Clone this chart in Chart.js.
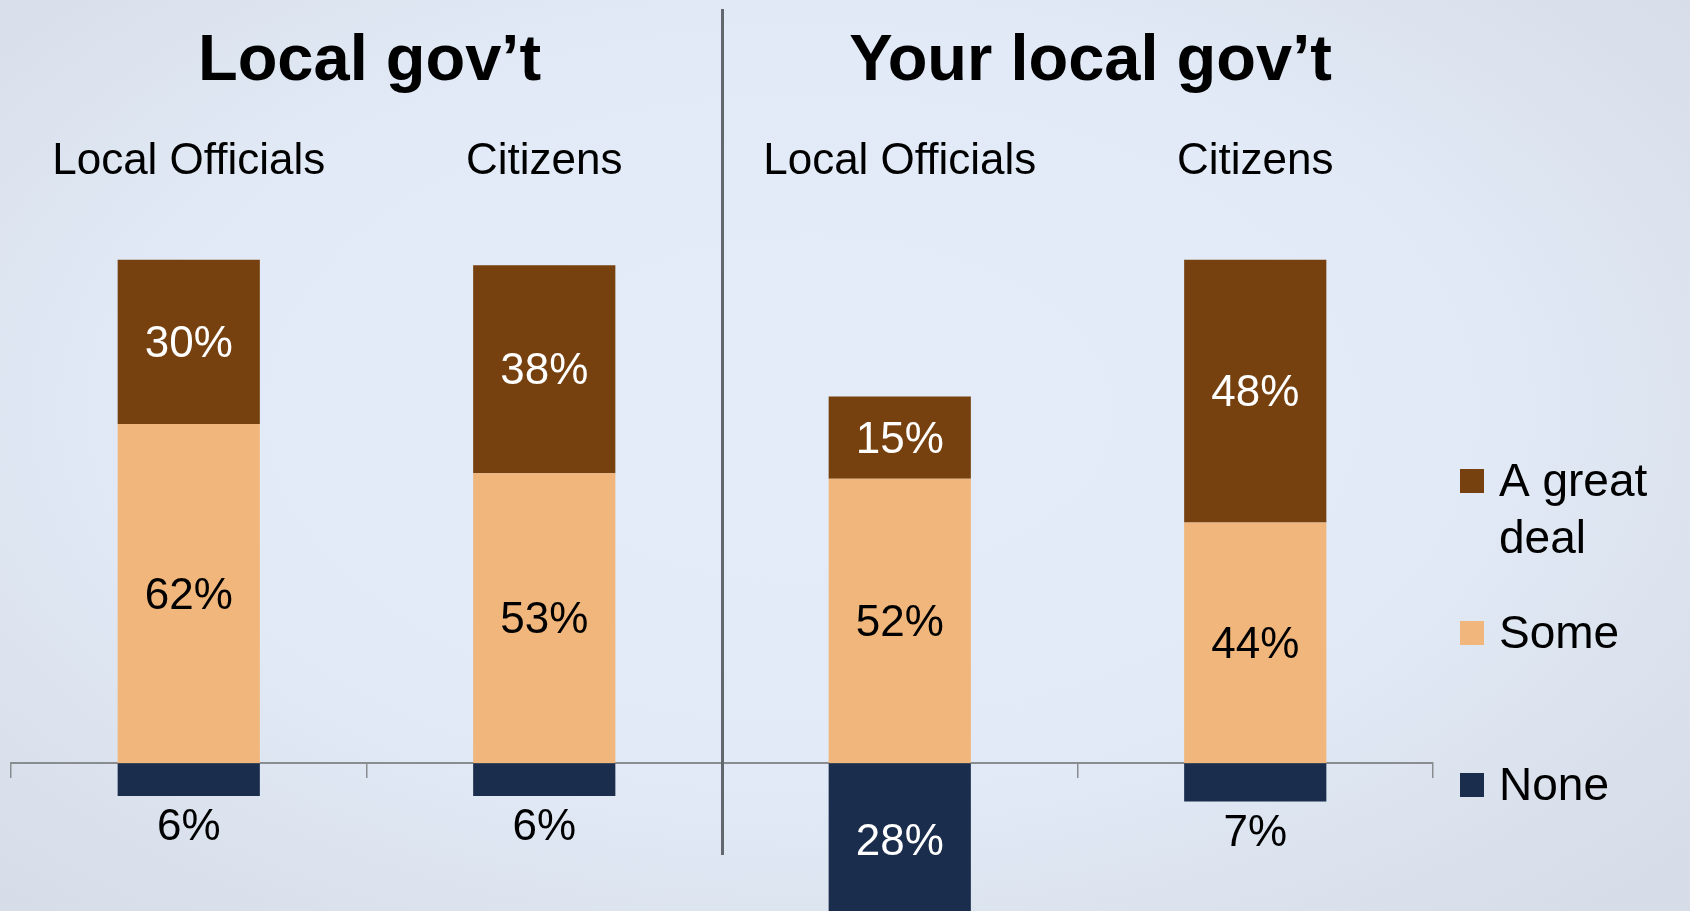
<!DOCTYPE html>
<html>
<head>
<meta charset="utf-8">
<script src="https://cdn.jsdelivr.net/npm/chart.js@4.4.1/dist/chart.umd.min.js"></script>
<style>
  html, body { margin: 0; padding: 0; width: 1690px; height: 911px; overflow: hidden; }
  body { background: radial-gradient(ellipse 70% 75% at 48% 45%, #e3ecf8 0%, #e1eaf6 55%, #d6dce8 100%); }
  #wrap { position: relative; width: 1690px; height: 911px; }
</style>
</head>
<body>
<div id="wrap"><canvas id="chart"></canvas></div>
<script>
const categories = ['Local Officials', 'Citizens', 'Local Officials', 'Citizens']
const groupTitles = ['Local gov’t', 'Your local gov’t']
const seriesNames = ['A great deal', 'Some', 'None']
const greatDeal = [30, 38, 15, 48]
const some = [62, 53, 52, 44]
const none = [-6, -6, -28, -7]

const BROWN = '#77410f'
const PEACH = '#f0b67b'
const NAVY = '#1b2d4d'
const FONT = "'Liberation Sans', Arial, sans-serif"

// value labels, titles, divider and the legend on the right
const decorations = {
  id: 'decorations',
  afterDatasetsDraw(chart) {
    const ctx = chart.ctx
    ctx.save()
    ctx.font = '44px ' + FONT
    ctx.textAlign = 'center'
    ctx.textBaseline = 'middle'
    chart.data.datasets.forEach((ds, i) => {
      chart.getDatasetMeta(i).data.forEach((bar, j) => {
        const v = ds.data[j]
        let y = (bar.y + bar.base) / 2 + 3
        let color = ds.labelColor
        if (v < 0 && Math.abs(v) < 10) {
          y = bar.y + 32
          color = '#000'
        }
        ctx.fillStyle = color
        ctx.fillText(Math.abs(v) + '%', bar.x, y)
      })
    })
    ctx.restore()
  },
  afterDraw(chart) {
    const ctx = chart.ctx
    const x = chart.scales.x
    const area = chart.chartArea
    ctx.save()

    // divider between the two groups
    const dx = Math.round(x.getPixelForValue(1.5)) + 0.5
    ctx.strokeStyle = '#62686d'
    ctx.lineWidth = 3
    ctx.beginPath()
    ctx.moveTo(dx, 9)
    ctx.lineTo(dx, 855)
    ctx.stroke()

    // group titles
    ctx.fillStyle = '#000'
    ctx.font = 'bold 65px ' + FONT
    ctx.textAlign = 'center'
    ctx.textBaseline = 'middle'
    const shift = [3, 13]
    groupTitles.forEach((t, i) => {
      ctx.fillText(t, x.getPixelForValue(i * 2 + 0.5) + shift[i], 62)
    })

    // legend
    const lines = [['A great', 'deal'], ['Some'], ['None']]
    const rows = [481, 633, 785]
    const bx = area.right + 27
    ctx.font = '46px ' + FONT
    ctx.textAlign = 'left'
    chart.data.datasets.slice().reverse().forEach((ds, k) => {
      ctx.fillStyle = ds.backgroundColor
      ctx.fillRect(bx, rows[k] - 12, 24, 24)
      ctx.fillStyle = '#000'
      lines[k].forEach((ln, n) => ctx.fillText(ln, bx + 39, rows[k] + 2 + n * 57))
    })
    ctx.restore()
  }
}

const ctx = document.getElementById('chart').getContext('2d')
const chart = new Chart(ctx, {
  type: 'bar',
  data: {
    labels: categories,
    datasets: [
      { label: seriesNames[2], data: none, backgroundColor: NAVY, labelColor: '#fff' },
      { label: seriesNames[1], data: some, backgroundColor: PEACH, labelColor: '#000' },
      { label: seriesNames[0], data: greatDeal, backgroundColor: BROWN, labelColor: '#fff' }
    ]
  },
  options: {
    responsive: true,
    maintainAspectRatio: false,
    animation: false,
    barPercentage: 0.4,
    categoryPercentage: 1.0,
    layout: { padding: { top: 126, right: 257, left: 11, bottom: 0 } },
    plugins: { legend: { display: false }, tooltip: { enabled: false } },
    scales: {
      x: {
        stacked: true,
        position: { y: 0 },
        offset: true,
        ticks: { display: false },
        grid: { offset: true, drawOnChartArea: false, drawTicks: true, tickLength: 14, color: '#8a8d90', lineWidth: 1.5 },
        border: { display: true, color: '#8a8d90', width: 2 }
      },
      x2: {
        type: 'category',
        position: 'top',
        offset: true,
        labels: categories,
        grid: { display: false, drawTicks: false },
        border: { display: false },
        ticks: { color: '#000', padding: 28, font: { family: FONT, size: 44 }, maxRotation: 0, autoSkip: false },
        afterFit(scale) { scale.height = 90 }
      },
      y: {
        stacked: true,
        display: false,
        min: -27,
        max: 100
      }
    }
  },
  plugins: [decorations]
})
</script>
</body>
</html>
